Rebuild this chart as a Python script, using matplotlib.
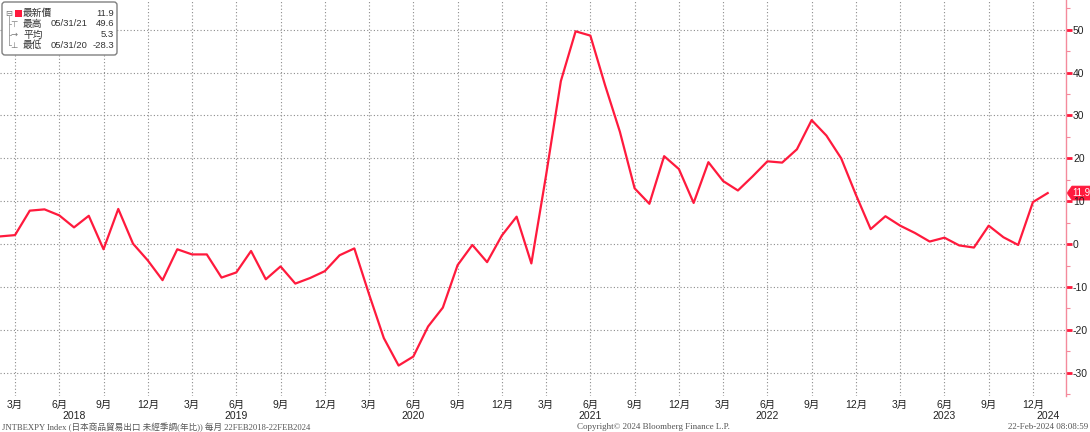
import matplotlib
matplotlib.use('Agg')
import matplotlib.pyplot as plt
from matplotlib.patches import FancyBboxPatch, Rectangle, Polygon
from matplotlib.ticker import MultipleLocator
import matplotlib.transforms as mtrans

plt.rcParams['font.family'] = ['Liberation Sans', 'Noto Sans CJK TC', 'DejaVu Sans']
plt.rcParams['axes.unicode_minus'] = False

# monthly YoY %, Feb 2018 .. Jan 2024
values = [1.8, 2.1, 7.8, 8.1, 6.7, 3.9, 6.6, -1.2, 8.2, 0.1, -3.8,
          -8.4, -1.2, -2.4, -2.4, -7.8, -6.6, -1.6, -8.2, -5.2, -9.2, -7.9, -6.3,
          -2.6, -1.0, -11.7, -21.9, -28.3, -26.2, -19.2, -14.8, -4.9, -0.2, -4.2, 2.0,
          6.4, -4.5, 16.1, 38.0, 49.6, 48.6, 37.0, 26.2, 13.0, 9.4, 20.5, 17.5,
          9.6, 19.1, 14.7, 12.5, 15.8, 19.3, 19.0, 22.1, 28.9, 25.3, 20.0, 11.5,
          3.5, 6.5, 4.3, 2.6, 0.6, 1.5, -0.3, -0.8, 4.3, 1.6, -0.2, 9.8,
          11.9]

month_ticks = list(range(1, 71, 3))
month_labels = ['3月', '6月', '9月', '12月'] * 6
year_pos = [5, 16, 28, 40, 52, 64, 71]
year_labels = ['2018', '2019', '2020', '2021', '2022', '2023', '2024']

legend_names = ['最新價', '最高', '平均', '最低']
legend_dates = ['', '05/31/21', '', '05/31/20']
legend_vals = ['11.9', '49.6', '5.3', '-28.3']

last_value = '11.9'
footer_left = 'JNTBEXPY Index (日本商品貿易出口 未經季調(年比)) 每月 22FEB2018-22FEB2024'
footer_mid = 'Copyright© 2024 Bloomberg Finance L.P.'
footer_right = '22-Feb-2024 08:08:59'

W, H = 1090, 432
AXW, AXH = 1066, 396
fig = plt.figure(figsize=(W / 100, H / 100), dpi=100)
ax = fig.add_axes([0, 36 / H, AXW / W, AXH / H])

red = '#ff1a3d'
pink = '#f48a9c'

ax.plot(range(len(values)), values, color=red, lw=1.6)
ax.set_xlim(-0.017, 72.24)
ax.set_ylim(-35.4, 56.9)

ax.set_xticks(month_ticks)
ax.set_xticklabels(month_labels)
ax.yaxis.set_major_locator(MultipleLocator(10))
ax.yaxis.set_minor_locator(MultipleLocator(5))
ax.yaxis.tick_right()

ax.grid(True, which='major', color='#8c8c8c', linestyle=(0, (1, 2)), lw=0.8)
for s in ['left', 'top', 'bottom']:
    ax.spines[s].set_visible(False)
ax.spines['right'].set_color(pink)
ax.spines['right'].set_linewidth(1.0)

ax.tick_params(axis='x', length=0, pad=3, labelsize=7.5, colors='#222')
ax.tick_params(axis='y', which='major', length=4, width=2, color=red,
               pad=1, labelsize=7.5, labelcolor='#222')
ax.tick_params(axis='y', which='minor', length=3, width=0.8, color=pink)

# year labels under month labels
tr = mtrans.blended_transform_factory(ax.transData, ax.transAxes)
for p, lab in zip(year_pos, year_labels):
    ax.text(p, -20 / AXH, lab, transform=tr, ha='center', va='center',
            fontsize=7.5, color='#222', clip_on=False)

# last value tag on right axis (x in axes fraction, y in data)
ytr = ax.get_yaxis_transform()
lv = float(last_value)
px = 1.0 / AXW                       # one pixel in axes fraction
py = (56.9 + 35.4) / AXH             # one pixel in data units
tag = Polygon([(1 + 1 * px, lv), (1 + 6 * px, lv + 7 * py), (1 + 24 * px, lv + 7 * py),
               (1 + 24 * px, lv - 7 * py), (1 + 6 * px, lv - 7 * py)],
              closed=True, transform=ytr, fc=red, ec=red, lw=0.5, clip_on=False)
ax.add_patch(tag)
ax.text(1 + 15 * px, lv, last_value, transform=ytr, ha='center', va='center',
        fontsize=7, color='white', clip_on=False)

# legend box
lax = fig.add_axes([1 / W, 1 - 56 / H, 117 / W, 55 / H])
lax.set_xlim(0, 117)
lax.set_ylim(55, 0)
lax.axis('off')
lax.add_patch(FancyBboxPatch((1, 1), 115, 53, boxstyle='round,pad=0,rounding_size=3',
                             ec='#808080', fc='white', lw=1))
rows = [12, 23, 33.5, 44]
lax.text(7.5, 12, '⊟', fontsize=6, color='#777', ha='center', va='center',
         family='DejaVu Sans')
lax.plot([7.5, 7.5], [15, 44], color='#999', lw=0.6)
for r in rows[1:]:
    lax.plot([7.5, 10], [r, r], color='#999', lw=0.6)
icons = ['⊤', '→', '⊥']
for r, ic in zip(rows[1:], icons):
    lax.text(13, r, ic, fontsize=6, color='#777', ha='center', va='center',
             family='DejaVu Sans')
lax.add_patch(Rectangle((14, 8.5), 7, 7, fc=red, ec='none'))
for r, name, d, v in zip(rows, legend_names, legend_dates, legend_vals):
    lax.text(22, r, name, fontsize=7, color='#333', ha='left', va='center')
    if d:
        lax.text(50, r, d, fontsize=6.8, color='#333', ha='left', va='center')
    lax.text(113, r, v, fontsize=6.8, color='#333', ha='right', va='center')

# footer
ff = ['Liberation Serif', 'Noto Sans CJK TC', 'DejaVu Sans']
fy = 5 / H
fig.text(2 / W, fy, footer_left, fontsize=6.2, color='#555', ha='left', va='center', family=ff)
fig.text(577 / W, fy, footer_mid, fontsize=6.5, color='#555', ha='left', va='center', family=ff)
fig.text(1088 / W, fy, footer_right, fontsize=6.5, color='#555', ha='right', va='center', family=ff)

fig.savefig('out.png', dpi=100)
